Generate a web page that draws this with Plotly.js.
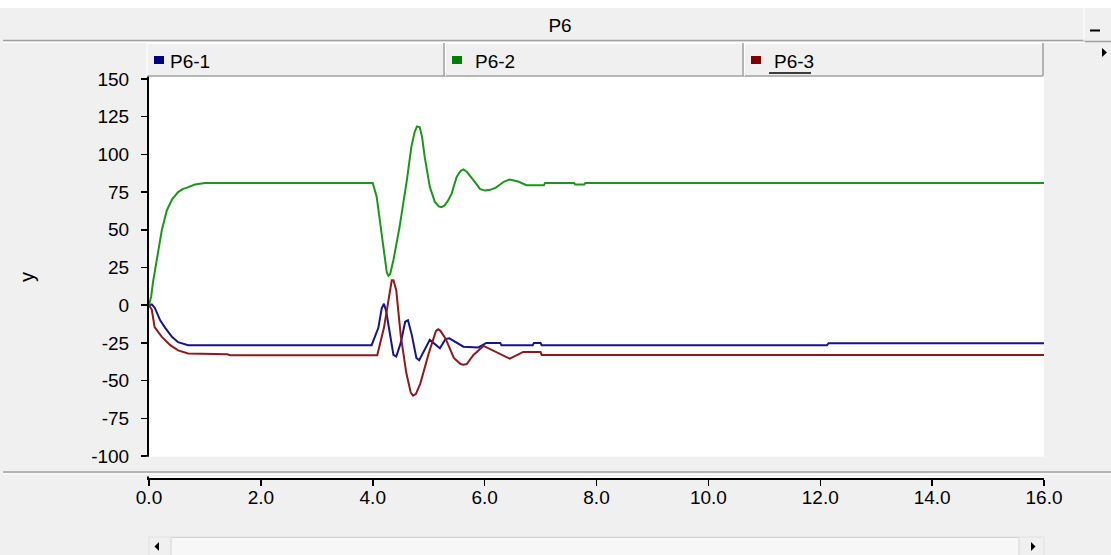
<!DOCTYPE html>
<html>
<head>
<meta charset="utf-8">
<script src="https://cdn.plot.ly/plotly-3.0.1.min.js"></script>
<style>
html,body{margin:0;padding:0;background:#f0f0f0;}
#chart{width:1111px;height:555px;}
</style>
</head>
<body>
<div id="chart"></div>
<script>
// ---- data ----
var chartTitle = "P6";
var seriesNames = ["P6-1", "P6-2", "P6-3"];
var yTickValues = [-100, -75, -50, -25, 0, 25, 50, 75, 100, 125, 150];
var yTickLabels = ["-100", "-75", "-50", "-25", "0", "25", "50", "75", "100", "125", "150"];
var xTickValues = [0, 2, 4, 6, 8, 10, 12, 14, 16];
var xTickLabels = ["0.0", "2.0", "4.0", "6.0", "8.0", "10.0", "12.0", "14.0", "16.0"];

var tGreen = [0, 0.04, 0.07, 0.16, 0.23, 0.32, 0.41, 0.52, 0.6, 0.68, 0.82, 1.0, 4.0, 4.07, 4.13, 4.19, 4.25, 4.28, 4.31, 4.37, 4.48, 4.61, 4.69, 4.75, 4.79, 4.84, 4.88, 4.93, 5.02, 5.11, 5.18, 5.23, 5.28, 5.34, 5.41, 5.5, 5.57, 5.62, 5.68, 5.8, 5.92, 6.01, 6.1, 6.2, 6.35, 6.45, 6.6, 6.75, 7.06, 7.08, 7.6, 7.62, 7.78, 7.8, 16];
var vGreen = [0, 6, 15, 36, 50, 63, 70, 75, 77, 78, 80, 81, 81, 72, 54, 39, 22, 19.5, 20.5, 30, 52, 83, 105, 115, 118.5, 118, 112, 98, 78.5, 68.5, 65.5, 65, 66, 69, 74, 85, 89, 90, 88.5, 83, 77, 76, 76.5, 78, 82, 83.3, 82, 79.6, 79.6, 81, 81, 80, 80, 81, 81];

var tBlue = [0, 0.05, 0.1, 0.2, 0.29, 0.41, 0.52, 0.7, 3.98, 4.1, 4.16, 4.2, 4.24, 4.32, 4.37, 4.42, 4.5, 4.58, 4.63, 4.7, 4.78, 4.83, 4.92, 5.02, 5.2, 5.3, 5.37, 5.5, 5.62, 5.89, 6.03, 6.28, 6.3, 6.86, 6.88, 7.0, 7.02, 12.12, 12.15, 16];
var vBlue = [0, 0.5, -1.5, -10, -15, -21, -24.5, -26.5, -26.5, -15, -2, 1, -4, -22, -33, -34, -25, -11, -10, -20, -35, -36.5, -30, -23, -28.5, -22.5, -22, -25, -27.5, -28, -25, -25, -26.5, -26.5, -25, -25, -26.5, -26.5, -25.2, -25.2];

var tRed = [0, 0.05, 0.1, 0.23, 0.38, 0.52, 0.7, 1.4, 1.45, 4.08, 4.2, 4.3, 4.34, 4.37, 4.42, 4.5, 4.6, 4.68, 4.72, 4.77, 4.85, 5.0, 5.13, 5.17, 5.21, 5.3, 5.45, 5.57, 5.62, 5.68, 5.8, 5.98, 6.2, 6.45, 6.69, 7.0, 7.02, 16];
var vRed = [0, -3, -14.5, -21, -26.5, -30, -32, -32.5, -33.2, -33.2, -15, 8, 16.5, 16.5, 10, -20, -45, -58, -60, -59, -52, -32, -17, -16, -17, -22, -35, -39, -39.5, -39, -33, -27, -31, -35.5, -31, -31, -33, -33];

var lineColors = ["#14148c", "#1a961a", "#8c1a1a"];
var keyColors = ["#000080", "#008000", "#800000"];

// ---- pixel helpers for the window chrome ----
var L = 149, R = 1044, T = 76, B = 478;
function px(x){ return (x - L) / (R - L); }
function py(y){ return (B - y) / (B - T); }
function rect(x0,y0,x1,y1,fill,line,lw){
  return {type:"rect", xref:"paper", yref:"paper", x0:px(x0), x1:px(x1), y0:py(y0), y1:py(y1),
    fillcolor:fill, line:{color:line||fill, width:lw===undefined?0:lw}, layer:"above"};
}
function hline(x0,x1,y,color,w){
  return {type:"line", xref:"paper", yref:"paper", x0:px(x0), x1:px(x1), y0:py(y), y1:py(y), line:{color:color, width:w||1}, layer:"above"};
}
function vline(x,y0,y1,color,w){
  return {type:"line", xref:"paper", yref:"paper", x0:px(x), x1:px(x), y0:py(y0), y1:py(y1), line:{color:color, width:w||1}, layer:"above"};
}
function tri(points,color){
  var d = "M" + points.map(function(p){return px(p[0])+","+py(p[1]);}).join(" L") + " Z";
  return {type:"path", xref:"paper", yref:"paper", path:d, fillcolor:color, line:{color:color,width:0}, layer:"above"};
}

var traces = [
  {x:tBlue, y:vBlue, name:seriesNames[0], mode:"lines", line:{color:lineColors[0], width:2}},
  {x:tGreen, y:vGreen, name:seriesNames[1], mode:"lines", line:{color:lineColors[1], width:2}},
  {x:tRed, y:vRed, name:seriesNames[2], mode:"lines", line:{color:lineColors[2], width:2}}
];

var FONT = "Liberation Sans, Arial, sans-serif";
var shapes = [
  rect(-10, 0, 1120, 8, "#ffffff"),
  hline(3, 1085, 40.5, "#a0a0a0", 1.5),
  hline(3, 1085, 42.5, "#ffffff", 1),
  vline(1084, 8, 41, "#ffffff", 1),
  hline(1085, 1111, 41.5, "#a0a0a0", 1.5),
  rect(1090, 29.5, 1100, 31.5, "#000000"),
  tri([[1102,48],[1107,52.5],[1102,57]], "#000000"),
  // legend cells
  hline(147, 1043, 43.5, "#ffffff", 1),
  hline(147, 1043, 76, "#a0a0a0", 1.5),
  vline(147, 43, 76, "#ffffff", 1),
  vline(444, 43, 76, "#a0a0a0", 1.5),
  vline(445.5, 43, 76, "#ffffff", 1),
  vline(743, 43, 76, "#a0a0a0", 1.5),
  vline(744.5, 43, 76, "#ffffff", 1),
  vline(1043, 43, 76, "#a0a0a0", 1.5),
  rect(154, 56, 164, 64, keyColors[0]),
  rect(452, 56, 462, 64, keyColors[1]),
  rect(751, 56, 761, 64, keyColors[2]),
  hline(769, 811, 73, "#000000", 1.5),
  // hide plot area below -100 down to the x axis line
  rect(146, 456.8, 1111, 476.5, "#f0f0f0"),
  hline(3, 1111, 472, "#a0a0a0", 1.5),
  hline(3, 1111, 474, "#ffffff", 1),
  // scrollbar
  rect(149, 537, 1044, 556, "#f0f0f0", "#e0e0e0", 1),
  rect(171, 537.5, 1019, 556, "#f7f7f7", "#d6d6d6", 1),
  tri([[159,542],[154.5,546.5],[159,551]], "#000000"),
  tri([[1031,542],[1035.5,546.5],[1031,551]], "#000000")
];

var annotations = [];
var textX = [168, 473, 772];
for (var i = 0; i < seriesNames.length; i++) {
  annotations.push({xref:"paper", yref:"paper", x:px(textX[i]), y:py(61), xanchor:"left", yanchor:"middle",
    text:seriesNames[i], showarrow:false, font:{family:FONT, size:19, color:"#000000"}});
}

var layout = {
  width:1111, height:555,
  paper_bgcolor:"#f0f0f0", plot_bgcolor:"#ffffff",
  margin:{l:L, r:1111-R, t:T, b:555-B, pad:0},
  showlegend:false,
  font:{family:FONT, size:19, color:"#000000"},
  title:{text:chartTitle, x:560/1111, xref:"container", xanchor:"center", y:1-25/555, yref:"container", yanchor:"middle",
    font:{family:FONT, size:19, color:"#000000"}},
  xaxis:{range:[0,16], tickvals:xTickValues, ticktext:xTickLabels, ticks:"outside", ticklen:6, tickwidth:1.5, tickcolor:"#000",
    showline:true, linecolor:"#000", linewidth:2, showgrid:false, zeroline:false, fixedrange:true,
    tickfont:{family:FONT, size:19, color:"#000"}, ticklabelstandoff:-5},
  yaxis:{range:[-114.6, 152], tickvals:yTickValues, ticktext:yTickLabels, ticks:"outside", ticklen:6, tickwidth:1.5, tickcolor:"#000",
    showline:true, linecolor:"#000", linewidth:2, showgrid:false, zeroline:false, fixedrange:true,
    tickfont:{family:FONT, size:19, color:"#000"}, ticklabelstandoff:8,
    title:{text:"y", standoff:51, font:{family:FONT, size:20, color:"#000"}}},
  shapes:shapes,
  annotations:annotations
};

Plotly.newPlot("chart", traces, layout, {displayModeBar:false, staticPlot:true});
</script>
</body>
</html>
